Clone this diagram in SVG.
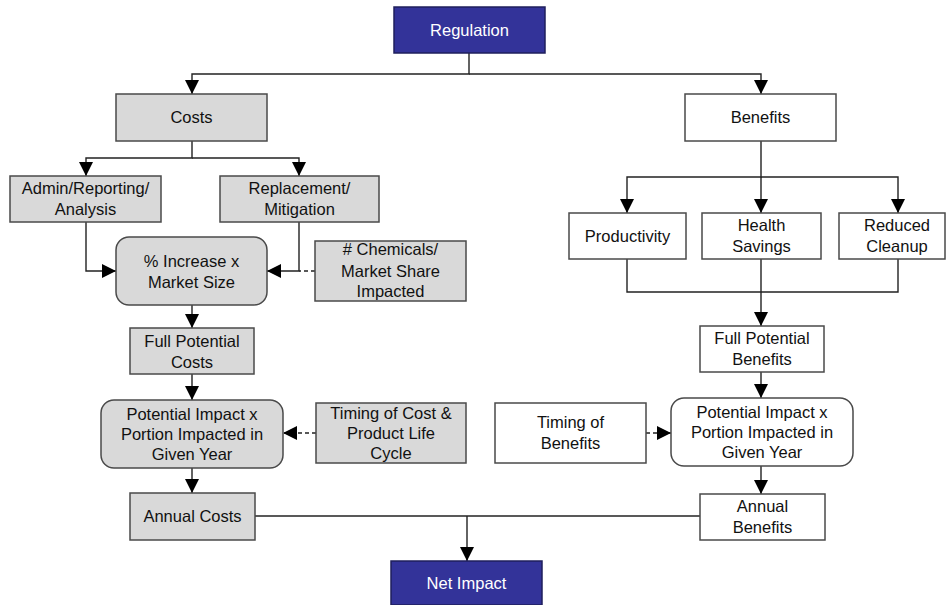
<svg xmlns="http://www.w3.org/2000/svg" width="946" height="605" viewBox="0 0 946 605">
<style>
.box{stroke:#4a4a4a;stroke-width:1.5}
.g{fill:#d9d9d9}
.w{fill:#ffffff}
.b{fill:#333399;stroke:#1f1f5c}
text{font-family:"Liberation Sans",Arial,sans-serif;font-size:16.5px;fill:#111;text-anchor:middle}
.wt{fill:#ffffff}
.c{fill:none;stroke:#222;stroke-width:1.4}
.d{stroke-dasharray:4,3}
</style>
<defs>
<marker id="ah" viewBox="0 0 14 14" markerWidth="14" markerHeight="14" refX="14" refY="7" orient="auto" markerUnits="userSpaceOnUse">
<path d="M0,0 L14,7 L0,14 z" fill="#000"/>
</marker>
</defs>
<rect width="946" height="605" fill="#fff"/>
<g id="connectors">
<path class="c" d="M469,53 V74 H192 V94" marker-end="url(#ah)"/>
<path class="c" d="M469,74 H761 V94" marker-end="url(#ah)"/>
<path class="c" d="M192,141 V158 H86 V176" marker-end="url(#ah)"/>
<path class="c" d="M192,158 H299 V176" marker-end="url(#ah)"/>
<path class="c" d="M86,222 V271 H116" marker-end="url(#ah)"/>
<path class="c" d="M299,222 V271 H267" marker-end="url(#ah)"/>
<path class="c d" d="M315,271 H299"/>
<path class="c" d="M192,305 V328" marker-end="url(#ah)"/>
<path class="c" d="M192,374 V400" marker-end="url(#ah)"/>
<path class="c d" d="M316,433 H283" marker-end="url(#ah)"/>
<path class="c" d="M192,468 V493" marker-end="url(#ah)"/>
<path class="c" d="M255,516 H700"/>
<path class="c" d="M467,516 V561" marker-end="url(#ah)"/>
<path class="c" d="M761,141 V177 H627 V213" marker-end="url(#ah)"/>
<path class="c" d="M761,177 H898 V213" marker-end="url(#ah)"/>
<path class="c" d="M761,177 V213" marker-end="url(#ah)"/>
<path class="c" d="M627,259 V292 H898 V259"/>
<path class="c" d="M761,259 V326" marker-end="url(#ah)"/>
<path class="c" d="M761,372 V398" marker-end="url(#ah)"/>
<path class="c d" d="M646,433 H671" marker-end="url(#ah)"/>
<path class="c" d="M761,466 V494" marker-end="url(#ah)"/>
</g>
<g id="regulation"><rect class="box b" x="394" y="7" width="151" height="46"/><text class="wt" x="469.5" y="36">Regulation</text></g>
<g id="costs"><rect class="box g" x="116" y="94" width="151" height="47"/><text x="191.5" y="123">Costs</text></g>
<g id="benefits"><rect class="box w" x="685" y="94" width="151" height="47"/><text x="760.5" y="123">Benefits</text></g>
<g id="admin"><rect class="box g" x="10" y="176" width="151" height="46"/><text x="85.5" y="194">Admin/Reporting/</text><text x="85.5" y="215">Analysis</text></g>
<g id="replacement"><rect class="box g" x="220" y="176" width="159" height="46"/><text x="299.5" y="194">Replacement/</text><text x="299.5" y="215">Mitigation</text></g>
<g id="increase"><rect class="box g" x="116" y="237" width="151" height="68" rx="13"/><text x="191.5" y="267">% Increase x</text><text x="191.5" y="288">Market Size</text></g>
<g id="chemicals"><rect class="box g" x="315" y="241" width="151" height="60"/><text x="390.5" y="255"># Chemicals/</text><text x="390.5" y="277">Market Share</text><text x="390.5" y="297">Impacted</text></g>
<g id="fpc"><rect class="box g" x="130" y="328" width="124" height="46"/><text x="192" y="347">Full Potential</text><text x="192" y="368">Costs</text></g>
<g id="pil"><rect class="box g" x="101" y="400" width="182" height="68" rx="13"/><text x="192" y="420">Potential Impact x</text><text x="192" y="440">Portion Impacted in</text><text x="192" y="460">Given Year</text></g>
<g id="timingcost"><rect class="box g" x="316" y="403" width="150" height="60"/><text x="391" y="419">Timing of Cost &amp;</text><text x="391" y="439">Product Life</text><text x="391" y="459">Cycle</text></g>
<g id="annualcosts"><rect class="box g" x="130" y="493" width="125" height="47"/><text x="192.5" y="522">Annual Costs</text></g>
<g id="productivity"><rect class="box w" x="569" y="213" width="117" height="46"/><text x="627.5" y="242">Productivity</text></g>
<g id="health"><rect class="box w" x="702" y="213" width="119" height="46"/><text x="761.5" y="231">Health</text><text x="761.5" y="252">Savings</text></g>
<g id="cleanup"><rect class="box w" x="839" y="213" width="106" height="46"/><text x="897" y="231">Reduced</text><text x="897" y="252">Cleanup</text></g>
<g id="fpb"><rect class="box w" x="700" y="326" width="124" height="46"/><text x="762" y="344">Full Potential</text><text x="762" y="365">Benefits</text></g>
<g id="timingben"><rect class="box w" x="495" y="403" width="151" height="60"/><text x="570.5" y="428">Timing of</text><text x="570.5" y="449">Benefits</text></g>
<g id="pir"><rect class="box w" x="671" y="398" width="182" height="68" rx="13"/><text x="762" y="418">Potential Impact x</text><text x="762" y="438">Portion Impacted in</text><text x="762" y="458">Given Year</text></g>
<g id="annualben"><rect class="box w" x="700" y="494" width="125" height="46"/><text x="762.5" y="512">Annual</text><text x="762.5" y="533">Benefits</text></g>
<g id="net"><rect class="box b" x="391" y="561" width="151" height="44"/><text class="wt" x="466.5" y="589">Net Impact</text></g>
</svg>
